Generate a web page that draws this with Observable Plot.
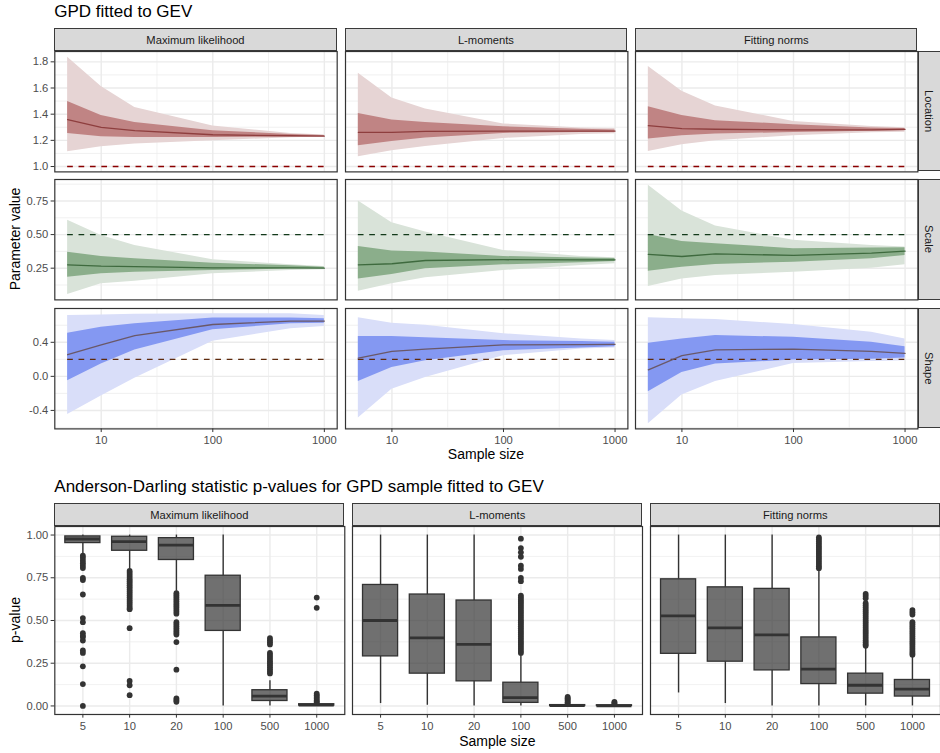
<!DOCTYPE html>
<html><head><meta charset="utf-8">
<script src="https://cdn.jsdelivr.net/npm/d3@7"></script>
<script src="https://cdn.jsdelivr.net/npm/@observablehq/plot@0.6"></script>
<style>
body{margin:0;background:#fff;}
#root{position:relative;width:940px;height:753px;overflow:hidden;font-family:"Liberation Sans",Arial,Helvetica,sans-serif;background:#fff;}
.strip{position:absolute;background:#D9D9D9;border:1px solid #3a3a3a;box-sizing:border-box;display:flex;align-items:center;justify-content:center;font-size:11.2px;color:#1A1A1A;white-space:nowrap;}
.vstrip{writing-mode:vertical-rl;}
.t{position:absolute;white-space:nowrap;line-height:1;color:#000;}
</style></head><body><div id="root"></div>
<script>
// ---------------- data ----------------
const sampleSizes = [5, 10, 20, 100, 500, 1000];
const methods = ["Maximum likelihood", "L-moments", "Fitting norms"];
const params = ["Location", "Scale", "Shape"];
const trueValues = [1.0, 0.5, 0.2];

// Location
const loc_ML_outerHi = [1.835, 1.611, 1.452, 1.310, 1.253, 1.240];
const loc_ML_innerHi = [1.496, 1.389, 1.337, 1.274, 1.245, 1.237];
const loc_ML_median  = [1.358, 1.299, 1.274, 1.243, 1.235, 1.233];
const loc_ML_innerLo = [1.253, 1.228, 1.222, 1.222, 1.226, 1.228];
const loc_ML_outerLo = [1.113, 1.151, 1.172, 1.197, 1.220, 1.225];

const loc_LM_outerHi = [1.713, 1.524, 1.440, 1.325, 1.295, 1.290];
const loc_LM_innerHi = [1.406, 1.355, 1.337, 1.304, 1.285, 1.280];
const loc_LM_median  = [1.261, 1.261, 1.268, 1.270, 1.271, 1.271];
const loc_LM_innerLo = [1.159, 1.192, 1.218, 1.253, 1.260, 1.262];
const loc_LM_outerLo = [1.074, 1.120, 1.153, 1.215, 1.245, 1.250];

const loc_FN_outerHi = [1.764, 1.575, 1.463, 1.345, 1.305, 1.297];
const loc_FN_innerHi = [1.457, 1.389, 1.350, 1.320, 1.295, 1.290];
const loc_FN_median  = [1.312, 1.289, 1.285, 1.280, 1.280, 1.284];
const loc_FN_innerLo = [1.210, 1.235, 1.248, 1.260, 1.270, 1.274];
const loc_FN_outerLo = [1.115, 1.166, 1.197, 1.235, 1.258, 1.261];

// Scale
const scl_ML_outerHi = [0.606, 0.494, 0.419, 0.313, 0.275, 0.263];
const scl_ML_innerHi = [0.369, 0.337, 0.320, 0.287, 0.268, 0.257];
const scl_ML_median  = [0.275, 0.265, 0.262, 0.253, 0.252, 0.250];
const scl_ML_innerLo = [0.183, 0.208, 0.220, 0.233, 0.243, 0.245];
const scl_ML_outerLo = [0.054, 0.134, 0.153, 0.208, 0.233, 0.238];

const scl_LM_outerHi = [0.750, 0.589, 0.519, 0.382, 0.337, 0.327];
const scl_LM_innerHi = [0.412, 0.377, 0.370, 0.337, 0.325, 0.322];
const scl_LM_median  = [0.275, 0.283, 0.307, 0.313, 0.312, 0.312];
const scl_LM_innerLo = [0.170, 0.203, 0.245, 0.275, 0.290, 0.300];
const scl_LM_outerLo = [0.078, 0.134, 0.178, 0.233, 0.270, 0.283];

const scl_FN_outerHi = [0.867, 0.675, 0.563, 0.457, 0.419, 0.407];
const scl_FN_innerHi = [0.501, 0.449, 0.432, 0.395, 0.400, 0.402];
const scl_FN_median  = [0.352, 0.337, 0.357, 0.345, 0.362, 0.377];
const scl_FN_innerLo = [0.228, 0.257, 0.278, 0.295, 0.320, 0.345];
const scl_FN_outerLo = [0.113, 0.170, 0.195, 0.220, 0.250, 0.275];

// Shape
const shp_ML_outerHi = [0.716, 0.720, 0.728, 0.736, 0.736, 0.716];
const shp_ML_innerHi = [0.507, 0.578, 0.618, 0.684, 0.684, 0.677];
const shp_ML_median  = [0.254, 0.369, 0.479, 0.609, 0.649, 0.649];
const shp_ML_innerLo = [-0.053, 0.144, 0.310, 0.546, 0.618, 0.625];
const shp_ML_outerLo = [-0.447, -0.231, -0.021, 0.412, 0.559, 0.586];

const shp_LM_outerHi = [0.689, 0.625, 0.600, 0.500, 0.440, 0.420];
const shp_LM_innerHi = [0.467, 0.467, 0.452, 0.420, 0.410, 0.400];
const shp_LM_median  = [0.215, 0.294, 0.321, 0.369, 0.373, 0.376];
const shp_LM_innerLo = [-0.061, 0.104, 0.183, 0.302, 0.333, 0.349];
const shp_LM_outerLo = [-0.488, -0.152, -0.014, 0.243, 0.320, 0.333];

const shp_FN_outerHi = [0.689, 0.677, 0.668, 0.609, 0.518, 0.440];
const shp_FN_innerHi = [0.388, 0.440, 0.479, 0.459, 0.400, 0.349];
const shp_FN_median  = [0.077, 0.243, 0.310, 0.321, 0.294, 0.270];
const shp_FN_innerLo = [-0.180, 0.045, 0.144, 0.191, 0.200, 0.215];
const shp_FN_outerLo = [-0.558, -0.219, -0.061, 0.151, 0.175, 0.183];

// Anderson-Darling p-value box summaries (per sample size)
const ml_q1 = [0.953, 0.908, 0.854, 0.439, 0.029, 0.002];
const ml_med = [0.977, 0.962, 0.941, 0.589, 0.057, 0.005];
const ml_q3 = [0.992, 0.990, 0.982, 0.762, 0.092, 0.010];
const ml_whiskerLo = [0.890, 0.800, 0.671, 0.000, 0.000, 0.000];
const ml_whiskerHi = [1.000, 1.000, 1.000, 1.000, 0.148, 0.015];
const ml_outliers = [
  [0.879, 0.866, 0.850, 0.835, 0.821, 0.807, 0.749, 0.737, 0.652, 0.514, 0.490, 0.426, 0.410, 0.403, 0.383, 0.325, 0.310, 0.232, 0.128, 0.000],
  [0.790, 0.778, 0.766, 0.754, 0.742, 0.730, 0.718, 0.706, 0.694, 0.682, 0.670, 0.658, 0.646, 0.634, 0.622, 0.610, 0.598, 0.586, 0.574, 0.566, 0.455, 0.146, 0.121, 0.063],
  [0.660, 0.648, 0.636, 0.624, 0.612, 0.600, 0.588, 0.576, 0.564, 0.552, 0.540, 0.490, 0.478, 0.466, 0.454, 0.442, 0.430, 0.418, 0.374, 0.212, 0.044, 0.034, 0.024],
  [],
  [0.397, 0.385, 0.372, 0.360, 0.310, 0.298, 0.286, 0.274, 0.262, 0.250, 0.238, 0.226, 0.214, 0.202, 0.190],
  [0.634, 0.574, 0.072, 0.062, 0.052, 0.042, 0.032, 0.024, 0.018]
];

const lm_q1 = [0.290, 0.189, 0.144, 0.018, 0.000, 0.000];
const lm_med = [0.500, 0.398, 0.360, 0.049, 0.002, 0.001];
const lm_q3 = [0.708, 0.652, 0.617, 0.136, 0.005, 0.004];
const lm_whiskerLo = [0.014, 0.004, 0.000, 0.000, 0.000, 0.000];
const lm_whiskerHi = [1.000, 1.000, 1.000, 0.300, 0.012, 0.009];
const lm_outliers = [
  [], [], [],
  [0.979, 0.924, 0.899, 0.873, 0.821, 0.802, 0.749, 0.730, 0.646, 0.634, 0.622, 0.610, 0.598, 0.586, 0.574, 0.562, 0.550, 0.538, 0.526, 0.514, 0.502, 0.490, 0.478, 0.466, 0.454, 0.442, 0.430, 0.418, 0.406, 0.394, 0.382, 0.370, 0.358, 0.346, 0.334, 0.322, 0.310],
  [0.053, 0.045, 0.038, 0.030, 0.022, 0.016],
  [0.024, 0.018, 0.013]
];

const fn_q1 = [0.305, 0.259, 0.208, 0.128, 0.072, 0.055];
const fn_med = [0.527, 0.457, 0.416, 0.216, 0.121, 0.098];
const fn_q3 = [0.741, 0.694, 0.685, 0.401, 0.189, 0.152];
const fn_whiskerLo = [0.076, 0.014, 0.000, 0.000, 0.000, 0.000];
const fn_whiskerHi = [1.000, 1.000, 1.000, 0.795, 0.344, 0.288];
const fn_outliers = [
  [], [], [],
  [0.986, 0.974, 0.962, 0.950, 0.938, 0.926, 0.914, 0.902, 0.890, 0.878, 0.866, 0.854, 0.842, 0.830, 0.818, 0.806],
  [0.655, 0.643, 0.630, 0.601, 0.589, 0.577, 0.565, 0.553, 0.541, 0.529, 0.517, 0.505, 0.493, 0.481, 0.469, 0.457, 0.445, 0.433, 0.421, 0.409, 0.397, 0.385, 0.373, 0.361, 0.352],
  [0.561, 0.549, 0.535, 0.490, 0.478, 0.466, 0.454, 0.442, 0.430, 0.418, 0.406, 0.394, 0.382, 0.370, 0.358, 0.346, 0.334, 0.322, 0.310, 0.300]
];

// tick labels
const topXTicks = [10, 100, 1000];
const topYTicks = [[1.0, 1.2, 1.4, 1.6, 1.8], [0.25, 0.5, 0.75], [-0.4, 0.0, 0.4]];
const pTicks = [0, 0.25, 0.5, 0.75, 1];
const sampleLabels = ["5", "10", "20", "100", "500", "1000"];

// ---------------- assembly ----------------
const topSeries = [
  [[loc_ML_outerLo, loc_ML_innerLo, loc_ML_median, loc_ML_innerHi, loc_ML_outerHi],
   [loc_LM_outerLo, loc_LM_innerLo, loc_LM_median, loc_LM_innerHi, loc_LM_outerHi],
   [loc_FN_outerLo, loc_FN_innerLo, loc_FN_median, loc_FN_innerHi, loc_FN_outerHi]],
  [[scl_ML_outerLo, scl_ML_innerLo, scl_ML_median, scl_ML_innerHi, scl_ML_outerHi],
   [scl_LM_outerLo, scl_LM_innerLo, scl_LM_median, scl_LM_innerHi, scl_LM_outerHi],
   [scl_FN_outerLo, scl_FN_innerLo, scl_FN_median, scl_FN_innerHi, scl_FN_outerHi]],
  [[shp_ML_outerLo, shp_ML_innerLo, shp_ML_median, shp_ML_innerHi, shp_ML_outerHi],
   [shp_LM_outerLo, shp_LM_innerLo, shp_LM_median, shp_LM_innerHi, shp_LM_outerHi],
   [shp_FN_outerLo, shp_FN_innerLo, shp_FN_median, shp_FN_innerHi, shp_FN_outerHi]]
];
const boxSeries = [
  [ml_q1, ml_med, ml_q3, ml_whiskerLo, ml_whiskerHi, ml_outliers],
  [lm_q1, lm_med, lm_q3, lm_whiskerLo, lm_whiskerHi, lm_outliers],
  [fn_q1, fn_med, fn_q3, fn_whiskerLo, fn_whiskerHi, fn_outliers]
];

// styling / layout
const FONT = '"Liberation Sans", Arial, Helvetica, sans-serif';
const GRID = "#EBEBEB";
const DARK = "#333333";
const TICKTXT = "#4D4D4D";
const lightFill = ["#E6D4D4", "#D9E3D9", "#D9DEF9"];
const darkFill = ["#C08484", "#8BAE8B", "#8498F2"];
const medianStroke = ["#8E3E3E", "#3E6A3E", "#6A5868"];
const trueStroke = ["#8B0000", "#12391A", "#5E2A0C"];
const xDomainTop = [3.837, 1303];
const yDomains = [[0.959, 1.879], [0.014, 0.910], [-0.617, 0.797]];
const yMinor = [[1.1, 1.3, 1.5, 1.7], [0.125, 0.375, 0.625, 0.875], [-0.6, -0.2, 0.2, 0.6]];
const xMinorTop = [31.62, 316.2];
const yFmt = [d => d.toFixed(1), d => d.toFixed(2), d => d.toFixed(1)];

const topColLeft = [54.3, 344.7, 635.1], topW = 282.4;
const topRowTop = [50.9, 179.2, 307.5], topH = 120.4;
const botColLeft = [54.3, 352.3, 650.3], botW = 290;
const botTop = 525.7, botH = 188;

const root = document.getElementById("root");
function put(el, left, top) {
  el.style.position = "absolute";
  el.style.left = left + "px";
  el.style.top = top + "px";
  root.appendChild(el);
}
function txt(s, x, y, size, opts = {}) {
  const d = document.createElement("div");
  d.className = "t";
  d.textContent = s;
  d.style.fontSize = size + "px";
  d.style.left = x + "px";
  d.style.top = y + "px";
  const ax = opts.anchor === "start" ? "0" : "-50%";
  d.style.transform = `translate(${ax},-50%)` + (opts.rotate ? ` rotate(${opts.rotate}deg)` : "");
  if (opts.rotate) d.style.transformOrigin = "50% 50%";
  root.appendChild(d);
  return d;
}
function strip(s, left, top, w, h, vertical) {
  const d = document.createElement("div");
  d.className = "strip" + (vertical ? " vstrip" : "");
  d.style.left = left + "px"; d.style.top = top + "px";
  d.style.width = w + "px"; d.style.height = h + "px";
  d.textContent = s;
  root.appendChild(d);
}
const baseStyle = {background: "transparent", fontFamily: FONT, fontSize: "11.2px", overflow: "visible"};

function topPanel(r, c) {
  const [oLo, iLo, med, iHi, oHi] = topSeries[r][c];
  const rows = sampleSizes.map((n, i) => ({n, oLo: oLo[i], iLo: iLo[i], med: med[i], iHi: iHi[i], oHi: oHi[i]}));
  const truth = [{v: trueValues[r], x1: sampleSizes[0], x2: sampleSizes[sampleSizes.length - 1]}];
  const showY = c === 0, showX = r === 2;
  const mL = showY ? 54.3 : 0, mB = showX ? 24 : 0;
  const marks = [
    Plot.gridX(xMinorTop, {stroke: GRID, strokeOpacity: 1, strokeWidth: 0.71}),
    Plot.gridY(yMinor[r], {stroke: GRID, strokeOpacity: 1, strokeWidth: 0.71}),
    Plot.gridX(topXTicks, {stroke: GRID, strokeOpacity: 1, strokeWidth: 1.42}),
    Plot.gridY(topYTicks[r], {stroke: GRID, strokeOpacity: 1, strokeWidth: 1.42}),
    Plot.areaY(rows, {x: "n", y1: "oLo", y2: "oHi", fill: lightFill[r]}),
    Plot.areaY(rows, {x: "n", y1: "iLo", y2: "iHi", fill: darkFill[r]}),
    Plot.ruleY(truth, {y: "v", x1: "x1", x2: "x2", stroke: trueStroke[r], strokeWidth: 1.4, strokeDasharray: "5.7,5.7"}),
    Plot.lineY(rows, {x: "n", y: "med", stroke: medianStroke[r], strokeWidth: 1.3}),
    Plot.frame({stroke: DARK, strokeWidth: 1.2})
  ];
  if (showY) marks.push(Plot.axisY(topYTicks[r], {tickSize: 3.67, tickPadding: 2.9, stroke: DARK, fill: TICKTXT, fontSize: 11.2, tickFormat: yFmt[r], label: null}));
  if (showX) marks.push(Plot.axisX(topXTicks, {tickSize: 3.67, tickPadding: 3.8, stroke: DARK, fill: TICKTXT, fontSize: 11.2, tickFormat: d => String(d), label: null}));
  const svg = Plot.plot({
    width: topW + mL, height: topH + mB,
    marginLeft: mL, marginRight: 0, marginTop: 0, marginBottom: mB,
    x: Object.assign({type: "log", domain: xDomainTop}, showX ? {} : {axis: null}),
    y: Object.assign({domain: yDomains[r]}, showY ? {} : {axis: null}),
    style: baseStyle,
    marks
  });
  put(svg, topColLeft[c] - mL, topRowTop[r]);
}

function boxPanel(c) {
  const [q1, md, q3, wLo, wHi, outs] = boxSeries[c];
  const rows = sampleLabels.map((n, i) => ({n, q1: q1[i], md: md[i], q3: q3[i], wLo: wLo[i], wHi: wHi[i]}));
  const pts = [];
  sampleLabels.forEach((n, i) => outs[i].forEach(v => pts.push({n, v})));
  const showY = c === 0;
  const mL = showY ? 54.3 : 0, mB = 24;
  const marks = [
    Plot.gridY([0.125, 0.375, 0.625, 0.875], {stroke: GRID, strokeOpacity: 1, strokeWidth: 0.71}),
    Plot.gridY(pTicks, {stroke: GRID, strokeOpacity: 1, strokeWidth: 1.42}),
    Plot.gridX(sampleLabels, {stroke: GRID, strokeOpacity: 1, strokeWidth: 1.42}),
    Plot.ruleX(rows, {x: "n", y1: "wLo", y2: "q1", stroke: DARK, strokeWidth: 1.4}),
    Plot.ruleX(rows, {x: "n", y1: "q3", y2: "wHi", stroke: DARK, strokeWidth: 1.4}),
    Plot.barY(rows, {x: "n", y1: "q1", y2: "q3", fill: DARK, fillOpacity: 0.7, stroke: DARK, strokeWidth: 1.3}),
    Plot.tickY(rows, {x: "n", y: "md", stroke: DARK, strokeWidth: 2.8}),
    Plot.dot(pts, {x: "n", y: "v", r: 2.9, fill: DARK, stroke: "none"}),
    Plot.frame({stroke: DARK, strokeWidth: 1.2})
  ];
  if (showY) marks.push(Plot.axisY(pTicks, {tickSize: 3.67, tickPadding: 2.9, stroke: DARK, fill: TICKTXT, fontSize: 11.2, tickFormat: d => d.toFixed(2), label: null}));
  marks.push(Plot.axisX(sampleLabels, {tickSize: 3.67, tickPadding: 4.2, stroke: DARK, fill: TICKTXT, fontSize: 11.2, label: null}));
  const svg = Plot.plot({
    width: botW + mL, height: botH + mB,
    marginLeft: mL, marginRight: 0, marginTop: 0, marginBottom: mB,
    x: {type: "band", domain: sampleLabels, paddingInner: 0.25, paddingOuter: 0.225, align: 0.5, round: false},
    y: Object.assign({domain: [-0.05, 1.05]}, showY ? {} : {axis: null}),
    style: baseStyle,
    marks
  });
  put(svg, botColLeft[c] - mL, botTop);
}

// ---- top section ----
txt("GPD fitted to GEV", 54.3, 11.3, 17, {anchor: "start"});
methods.forEach((m, c) => strip(m, topColLeft[c], 28.3, topW, 23, false));
params.forEach((p, r) => strip(p, 917.5, topRowTop[r], 23, topH, true));
for (let r = 0; r < 3; r++) for (let c = 0; c < 3; c++) topPanel(r, c);
txt("Sample size", (54.3 + 917.7) / 2, 453.8, 14);
txt("Parameter value", 15, 239.4, 14, {rotate: -90});

// ---- bottom section ----
txt("Anderson-Darling statistic p-values for GPD sample fitted to GEV", 54.3, 486.4, 17, {anchor: "start"});
methods.forEach((m, c) => strip(m, botColLeft[c], 503.3, botW, 23, false));
for (let c = 0; c < 3; c++) boxPanel(c);
txt("Sample size", (54.3 + 940.3) / 2, 740.5, 14);
txt("p-value", 14.5, 619.7, 14, {rotate: -90});
</script>
</body></html>
